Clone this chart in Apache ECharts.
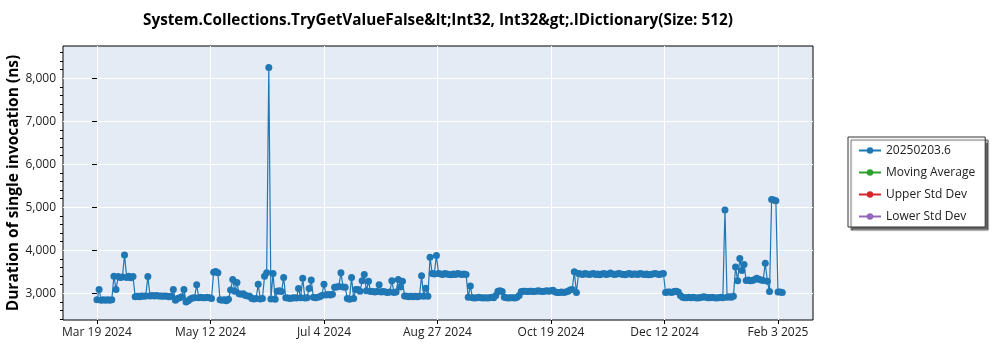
<!DOCTYPE html>
<html>
<head>
<meta charset="utf-8">
<script src="https://cdn.jsdelivr.net/npm/echarts@6/dist/echarts.min.js"></script>
<style>html,body{margin:0;padding:0;background:#fff;}#c{width:1000px;height:350px;}</style>
</head>
<body>
<div id="c"></div>
<script>
// Dates: day offsets from Mar 19 2024 (one entry per day)
const startDate = '2024-03-19';
const tickDays = [0, 53.5, 107, 160.5, 214, 267.5, 321];
const tickLabels = ['Mar 19 2024', 'May 12 2024', 'Jul 4 2024', 'Aug 27 2024', 'Oct 19 2024', 'Dec 12 2024', 'Feb 3 2025'];
const yTickValues = [3000, 4000, 5000, 6000, 7000, 8000];
const yMinorTickValues = [2400, 2600, 2800, 3200, 3400, 3600, 3800, 4200, 4400, 4600, 4800, 5200, 5400, 5600, 5800, 6200, 6400, 6600, 6800, 7200, 7400, 7600, 7800, 8200, 8400, 8600];
const seriesNames = ['20250203.6', 'Moving Average', 'Upper Std Dev', 'Lower Std Dev'];
// Duration (ns) per day, day 0 = Mar 19 2024
const durations = [
  2850, 3090, 2840, 2850, 2840, 2850, 2840, 2850, 3400, 3090,
  3390, 3370, 3380, 3890, 3370, 3400, 3360, 3390, 2920, 2930,
  2920, 2940, 2930, 2940, 3390, 2940, 2950, 2940, 2950, 2940,
  2940, 2930, 2940, 2930, 2920, 2930, 3090, 2840, 2880, 2900,
  2920, 3090, 2800, 2830, 2870, 2890, 2900, 3200, 2900, 2910,
  2900, 2900, 2910, 2900, 2880, 3490, 3510, 3480, 2850, 2840,
  2850, 2830, 2860, 3080, 3320, 3050, 3250, 2990, 2980, 2990,
  2950, 2940, 2930, 2880, 2870, 2880, 3210, 2870, 2880, 3400,
  3480, 8250, 2870, 3460, 2860, 3050, 3060, 3040, 3370, 2900,
  2890, 2880, 2890, 2900, 2890, 3110, 2900, 3350, 2890, 2900,
  3110, 3310, 2910, 2900, 2910, 2920, 2950, 3210, 2960, 2970,
  2960, 2980, 3140, 3150, 3160, 3480, 3150, 3140, 2880, 2860,
  3370, 2880, 3090, 3090, 3050, 3290, 3440, 3060, 3280, 3040,
  3040, 3030, 3040, 3200, 3030, 3040, 3030, 3020, 3030, 3290,
  3020, 3030, 3320, 3150, 3280, 2940, 2930, 2920, 2930, 2920,
  2930, 2920, 2930, 3410, 2930, 3120, 2930, 3840, 3460, 3450,
  3880, 3460, 3450, 3440, 3460, 3450, 3440, 3430, 3450, 3440,
  3460, 3450, 3440, 3450, 3440, 2910, 3170, 2900, 2890, 2900,
  2910, 2900, 2890, 2900, 2890, 2900, 2910, 2900, 2950, 3050,
  3060, 3040, 2910, 2900, 2890, 2900, 2900, 2890, 2910, 2950,
  3040, 3050, 3050, 3040, 3050, 3050, 3040, 3050, 3060, 3050,
  3040, 3050, 3060, 3050, 3060, 3070, 3030, 3020, 3020, 3030,
  3020, 3030, 3050, 3080, 3090, 3500, 3020, 3460, 3450, 3440,
  3460, 3450, 3440, 3450, 3460, 3440, 3450, 3430, 3450, 3460,
  3440, 3450, 3470, 3450, 3440, 3450, 3460, 3450, 3440, 3430,
  3450, 3460, 3440, 3450, 3450, 3440, 3460, 3450, 3440, 3450,
  3430, 3440, 3450, 3460, 3450, 3440, 3450, 3460, 3020, 3030,
  3030, 3020, 3040, 3050, 3030, 2950, 2910, 2900, 2900, 2910,
  2900, 2910, 2900, 2890, 2900, 2910, 2920, 2910, 2900, 2900,
  2910, 2900, 2890, 2900, 2910, 2900, 4940, 2910, 2920, 2910,
  2930, 3610, 3290, 3810, 3530, 3670, 3300, 3310, 3290, 3300,
  3320, 3350, 3330, 3310, 3300, 3700, 3280, 3040, 5180, 5170,
  5150, 3030, 3030, 3020
];

const chart = echarts.init(document.getElementById('c'), null, {renderer: 'canvas'});
const FONT = 'Open Sans';
const mainData = durations.map((v, i) => [i, v]);
const colors = ['#1f77b4', '#2ca02c', '#d62728', '#9467bd'];

chart.setOption({
  animation: false,
  textStyle: {fontFamily: FONT},
  title: {
    text: 'System.Collections.TryGetValueFalse&lt;Int32, Int32&gt;.IDictionary(Size: 512)',
    left: 138, top: 8,
    textStyle: {fontFamily: FONT, fontSize: 15.3, fontWeight: 'bold', color: '#000'}
  },
  legend: {
    orient: 'vertical', left: 848, top: 137,
    data: seriesNames,
    itemWidth: 22, itemHeight: 8, itemGap: 5,
    padding: [5, 10, 2, 10],
    backgroundColor: '#fff', borderColor: '#333', borderWidth: 1,
    shadowColor: 'rgba(0,0,0,0.6)', shadowBlur: 1, shadowOffsetX: 3, shadowOffsetY: 3,
    textStyle: {fontFamily: FONT, fontSize: 12, color: '#222', lineHeight: 17}
  },
  grid: {
    left: 63, top: 46, width: 750, height: 274, outerBoundsMode: 'none', containLabel: false,
    show: true, backgroundColor: '#E5EBF5', borderColor: '#000', borderWidth: 1
  },
  xAxis: {
    type: 'value', min: -16, max: 337.5,
    axisLine: {show: false},
    axisTick: {show: true, length: 4, customValues: tickDays, lineStyle: {color: '#000'}},
    axisLabel: {
      customValues: tickDays, fontSize: 12, color: '#222', margin: 7,
      formatter: (v) => { const i = tickDays.indexOf(v); return i >= 0 ? tickLabels[i] : ''; }
    },
    splitLine: {show: true, lineStyle: {color: '#fff', width: 1}}
  },
  yAxis: [{
    type: 'value', min: 2380, max: 8750,
    name: 'Duration of single invocation (ns)', nameLocation: 'middle', nameGap: 41, nameMoveOverlap: false,
    nameTextStyle: {fontFamily: FONT, fontSize: 15.5, fontWeight: 'bold', color: '#000'},
    axisLine: {show: false},
    axisTick: {show: true, length: 5, customValues: yTickValues, lineStyle: {color: '#000'}},
    axisLabel: {
      customValues: yTickValues, fontSize: 12, color: '#222', margin: 7,
      formatter: (v) => v.toLocaleString('en-US')
    },
    splitLine: {show: true, lineStyle: {color: '#fff', width: 1}}
  }, {
    type: 'value', min: 2380, max: 8750, position: 'left',
    axisLine: {show: false},
    axisTick: {show: true, length: 3, customValues: yMinorTickValues, lineStyle: {color: '#000'}},
    axisLabel: {show: false},
    splitLine: {show: false}
  }],
  series: [{
    name: seriesNames[0], type: 'line', data: mainData,
    color: colors[0], symbol: 'circle', symbolSize: 7, showAllSymbol: true,
    lineStyle: {width: 1.2, color: colors[0]}, itemStyle: {color: colors[0]}
  }, {
    name: seriesNames[1], type: 'line', data: [], color: colors[1], symbol: 'circle', lineStyle: {color: colors[1]}
  }, {
    name: seriesNames[2], type: 'line', data: [], color: colors[2], symbol: 'circle', lineStyle: {color: colors[2]}
  }, {
    name: seriesNames[3], type: 'line', data: [], color: colors[3], symbol: 'circle', lineStyle: {color: colors[3]}
  }]
});
</script>
</body>
</html>
